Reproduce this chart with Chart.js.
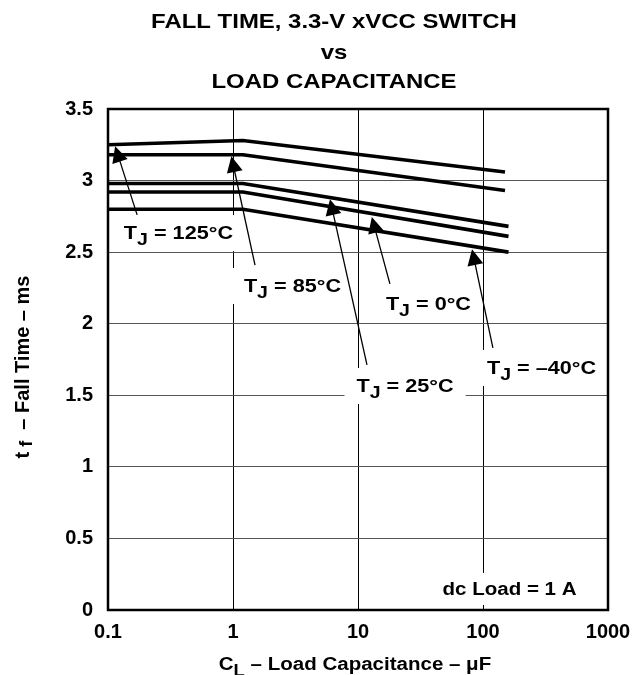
<!DOCTYPE html>
<html><head><meta charset="utf-8">
<script src="https://cdn.jsdelivr.net/npm/chart.js@4/dist/chart.umd.min.js"></script>
<style>html,body{margin:0;padding:0;background:#fff}#wrap{width:637px;height:675px}</style>
</head><body><div id="wrap"><canvas id="c" width="637" height="675"></canvas></div>
<script>
// ---- data ----
const capacitance = [0.1, 1.2, 150];          // µF
const capacitanceLow = [0.1, 1.2, 160];       // µF (lower three curves end slightly later)
const tj125 = [3.25, 3.28, 3.06];
const tj85  = [3.18, 3.18, 2.93];
const tj25  = [2.98, 2.98, 2.68];
const tj0   = [2.92, 2.92, 2.61];
const tjm40 = [2.80, 2.80, 2.50];
const xTicks = [0.1, 1, 10, 100, 1000];
const yTicks = [0, 0.5, 1, 1.5, 2, 2.5, 3, 3.5];
const seriesNames = ['125°C', '85°C', '25°C', '0°C', '–40°C'];

// annotation anchors in data units
const labelAt   = [[0.366, 2.64], [2.99, 2.27], [23.8, 1.572], [36.6, 2.145], [294, 1.698]];
const arrowFrom = [[0.171, 2.76], [1.5, 2.41], [11.8, 1.712], [18.0, 2.278], [120, 1.831]];
const arrowTo   = [[0.114, 3.24], [0.97, 3.17], [5.97, 2.87], [12.9, 2.745], [81.7, 2.52]];
const noteAt = [163, 0.147];

const FONT = '"Liberation Sans", Arial, Helvetica, sans-serif';
const SX = 1.14;

function pts(xs, ys){ return xs.map((x,i)=>({x:x, y:ys[i]})); }
function ds(xs, ys, name){ return {label:name, data:pts(xs,ys), borderColor:'#000', borderWidth:3.6, pointRadius:0, tension:0, fill:false}; }

function partsWidth(ctx, parts, size){
  let w = 0;
  for (const p of parts){ ctx.font = 'bold ' + (p.sub ? size*0.9 : size) + 'px ' + FONT; w += ctx.measureText(p.t).width; }
  return w;
}
function drawRich(ctx, parts, cx, cy, size, sx, subShift){
  ctx.save();
  ctx.translate(cx, cy); ctx.scale(sx, 1);
  const w = partsWidth(ctx, parts, size);
  let x = -w/2;
  ctx.textAlign = 'left'; ctx.textBaseline = 'alphabetic'; ctx.fillStyle = '#000';
  const base = size*0.36;
  const sh = subShift === undefined ? size*0.32 : subShift;
  for (const p of parts){
    ctx.font = 'bold ' + (p.sub ? size*0.9 : size) + 'px ' + FONT;
    ctx.fillText(p.t, x, base + (p.sub ? sh : 0));
    x += ctx.measureText(p.t).width;
  }
  ctx.restore();
  return w*sx;
}
function tjParts(name){ return [{t:'T'},{t:'J',sub:true},{t:' = ' + name}]; }

const LABEL_SIZE = 19;

const annot = {
  id:'annot',
  beforeDatasetsDraw(chart){
    const ctx = chart.ctx, xs = chart.scales.x, ys = chart.scales.y;
    ctx.save();
    ctx.fillStyle = '#fff';
    seriesNames.forEach((n,i)=>{
      const cx = xs.getPixelForValue(labelAt[i][0]), cy = ys.getPixelForValue(labelAt[i][1]);
      const w = partsWidth(ctx, tjParts(n), LABEL_SIZE)*SX;
      ctx.fillRect(cx - w/2 - 12, cy - 17, w + 24, 36);
    });
    const nx = xs.getPixelForValue(noteAt[0]), ny = ys.getPixelForValue(noteAt[1]);
    const nw = partsWidth(ctx, [{t:'dc Load = 1 A'}], 18)*SX;
    ctx.fillRect(nx - nw/2 - 10, ny - 16, nw + 20, 32);
    ctx.restore();
  },
  afterDatasetsDraw(chart){
    const ctx = chart.ctx, xs = chart.scales.x, ys = chart.scales.y, a = chart.chartArea;
    // frame
    ctx.save();
    ctx.strokeStyle = '#000'; ctx.lineWidth = 2.5;
    ctx.strokeRect(a.left, a.top, a.right - a.left, a.bottom - a.top);
    ctx.restore();
    // labels + arrows
    seriesNames.forEach((n,i)=>{
      const cx = xs.getPixelForValue(labelAt[i][0]), cy = ys.getPixelForValue(labelAt[i][1]);
      drawRich(ctx, tjParts(n), cx, cy, LABEL_SIZE, SX);
      const x0 = xs.getPixelForValue(arrowFrom[i][0]), y0 = ys.getPixelForValue(arrowFrom[i][1]);
      const x1 = xs.getPixelForValue(arrowTo[i][0]), y1 = ys.getPixelForValue(arrowTo[i][1]);
      const ang = Math.atan2(y1 - y0, x1 - x0);
      const L = 16, W = 8;
      ctx.save();
      ctx.strokeStyle = '#000'; ctx.fillStyle = '#000'; ctx.lineWidth = 1.3;
      ctx.beginPath(); ctx.moveTo(x0, y0);
      ctx.lineTo(x1 - Math.cos(ang)*L*0.8, y1 - Math.sin(ang)*L*0.8); ctx.stroke();
      ctx.beginPath();
      ctx.moveTo(x1, y1);
      ctx.lineTo(x1 - Math.cos(ang)*L + Math.sin(ang)*W, y1 - Math.sin(ang)*L - Math.cos(ang)*W);
      ctx.lineTo(x1 - Math.cos(ang)*L - Math.sin(ang)*W, y1 - Math.sin(ang)*L + Math.cos(ang)*W);
      ctx.closePath(); ctx.fill();
      ctx.restore();
    });
    const nx = xs.getPixelForValue(noteAt[0]), ny = ys.getPixelForValue(noteAt[1]);
    drawRich(ctx, [{t:'dc Load = 1 A'}], nx, ny, 18, SX);
  },
  afterDraw(chart){
    const ctx = chart.ctx, a = chart.chartArea;
    // title
    drawTitleLine(ctx, 'FALL TIME, 3.3-V xVCC SWITCH', 334, 28);
    drawTitleLine(ctx, 'vs', 334, 59);
    drawTitleLine(ctx, 'LOAD CAPACITANCE', 334, 88);
    // x axis title
    drawRich(ctx, [{t:'C'},{t:'L',sub:true},{t:' – Load Capacitance – μF'}], 355, 664, 18, SX);
    // y axis title
    ctx.save();
    ctx.translate(22, 367);
    ctx.rotate(-Math.PI/2);
    drawRich(ctx, [{t:'t'},{t:' f',sub:true},{t:'  – Fall Time – ms'}], 0, 0, 20, 1.0, 3);
    ctx.restore();
  }
};
function drawTitleLine(ctx, text, cx, baseline){
  ctx.save();
  ctx.translate(cx, baseline); ctx.scale(SX, 1);
  ctx.font = 'bold 21px ' + FONT; ctx.fillStyle = '#000';
  ctx.textAlign = 'center'; ctx.textBaseline = 'alphabetic';
  ctx.fillText(text, 0, 0);
  ctx.restore();
}

new Chart(document.getElementById('c'), {
  type: 'line',
  data: { datasets: [
    ds(capacitance, tj125, seriesNames[0]),
    ds(capacitance, tj85, seriesNames[1]),
    ds(capacitanceLow, tj25, seriesNames[2]),
    ds(capacitanceLow, tj0, seriesNames[3]),
    ds(capacitanceLow, tjm40, seriesNames[4])
  ]},
  options: {
    responsive: false, animation: false, devicePixelRatio: 1,
    layout: { padding: { top: 109, right: 29, left: 0, bottom: 0 } },
    plugins: { legend: { display: false }, title: { display: false }, tooltip: { enabled: false } },
    scales: {
      x: {
        type: 'logarithmic', min: 0.1, max: 1000,
        afterBuildTicks: s => { s.ticks = xTicks.map(v => ({ value: v })); },
        afterFit: s => { s.height = 65; s.paddingLeft = 0; s.paddingRight = 0; },
        ticks: { callback: v => String(v), font: { family: FONT, size: 20, weight: 'bold' }, color: '#000', padding: 10, maxRotation: 0, autoSkip: false },
        grid: { color: '#000', lineWidth: 1, drawTicks: false },
        border: { display: false }
      },
      y: {
        min: 0, max: 3.5,
        afterBuildTicks: s => { s.ticks = yTicks.map(v => ({ value: v })); },
        afterFit: s => { s.width = 108; s.paddingTop = 0; s.paddingBottom = 0; },
        ticks: { callback: v => String(v), font: { family: FONT, size: 20, weight: 'bold' }, color: '#000', padding: 15, autoSkip: false },
        grid: { color: '#555', lineWidth: 1, drawTicks: false },
        border: { display: false }
      }
    }
  },
  plugins: [annot]
});
</script>
</body></html>
